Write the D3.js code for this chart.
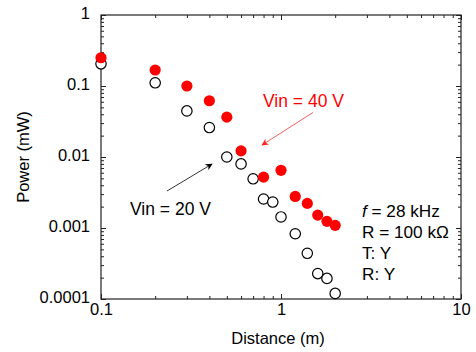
<!DOCTYPE html>
<html>
<head>
<meta charset="utf-8">
<script src="https://cdn.jsdelivr.net/npm/d3@7"></script>
<style>
  body { margin: 0; background: #fff; }
  svg { display: block; font-family: Arial, "Liberation Sans", sans-serif; }
</style>
</head>
<body>
<svg id="chart" width="476" height="352"></svg>
<script>
// distances (m) and measured power (mW)
const distance40 = [0.1, 0.2, 0.3, 0.4, 0.5, 0.6, 0.8, 1.0, 1.2, 1.4, 1.6, 1.8, 2.0];
const power40 = [0.25, 0.168, 0.1, 0.062, 0.0364, 0.0122, 0.0052, 0.0065, 0.00278, 0.00222, 0.00152, 0.00124, 0.00109];

const distance20 = [0.1, 0.2, 0.3, 0.4, 0.5, 0.6, 0.7, 0.8, 0.9, 1.0, 1.2, 1.4, 1.6, 1.8, 2.0];
const power20 = [0.205, 0.111, 0.0446, 0.026, 0.01, 0.008, 0.00493, 0.00256, 0.00232, 0.00143, 0.00083, 0.00044, 0.000228, 0.000195, 0.00012];

const xTicks = [0.1, 1, 10];
const xTickLabels = ['0.1', '1', '10'];
const yTicks = [0.0001, 0.001, 0.01, 0.1, 1];
const yTickLabels = ['0.0001', '0.001', '0.01', '0.1', '1'];

const notes = ['= 28 kHz', 'R = 100 k\u03A9', 'T: Y', 'R: Y'];

const margin = {left: 101, top: 15, right: 15, bottom: 53};
const W = 476, H = 352;

const svg = d3.select('#chart');

const x = d3.scaleLog().domain([0.1, 10]).range([margin.left, W - margin.right]);
const y = d3.scaleLog().domain([0.0001, 1]).range([H - margin.bottom, margin.top]);

// minor tick positions (2..9 in each decade)
function minors(domain) {
    let out = [];
    for (let e = Math.log10(domain[0]); e < Math.log10(domain[1]); e++) {
        for (let k = 2; k <= 9; k++) out.push(k * Math.pow(10, e));
    }
    return out;
}
const xMinor = minors(x.domain());
const yMinor = minors(y.domain());

// frame
svg.append('rect')
    .attr('x', x.range()[0]).attr('y', y.range()[1])
    .attr('width', x.range()[1] - x.range()[0])
    .attr('height', y.range()[0] - y.range()[1])
    .attr('fill', 'none').attr('stroke', '#222').attr('stroke-width', 1.2);

function styleAxis(g) {
    g.select('.domain').remove();
    g.selectAll('line').attr('stroke', '#222');
    g.selectAll('text').attr('fill', '#000').style('font-size', '16.5px');
}

// bottom
svg.append('g').attr('transform', `translate(0,${y.range()[0]})`)
    .call(d3.axisBottom(x).tickValues(xTicks).tickFormat((d, i) => xTickLabels[i])
        .tickSizeInner(-5).tickSizeOuter(0).tickPadding(4))
    .call(styleAxis);
svg.append('g').attr('transform', `translate(0,${y.range()[0]})`)
    .call(d3.axisBottom(x).tickValues(xMinor).tickFormat('').tickSizeInner(-3).tickSizeOuter(0))
    .call(styleAxis);
// top
svg.append('g').attr('transform', `translate(0,${y.range()[1]})`)
    .call(d3.axisTop(x).tickValues(xTicks).tickFormat('').tickSizeInner(-5).tickSizeOuter(0))
    .call(styleAxis);
svg.append('g').attr('transform', `translate(0,${y.range()[1]})`)
    .call(d3.axisTop(x).tickValues(xMinor).tickFormat('').tickSizeInner(-3).tickSizeOuter(0))
    .call(styleAxis);
// left
svg.append('g').attr('transform', `translate(${x.range()[0]},0)`)
    .call(d3.axisLeft(y).tickValues(yTicks).tickFormat((d, i) => yTickLabels[i])
        .tickSizeInner(-5).tickSizeOuter(0).tickPadding(11))
    .call(styleAxis)
    .selectAll('text').attr('dy', '0.2em');
svg.append('g').attr('transform', `translate(${x.range()[0]},0)`)
    .call(d3.axisLeft(y).tickValues(yMinor).tickFormat('').tickSizeInner(-3).tickSizeOuter(0))
    .call(styleAxis);
// right
svg.append('g').attr('transform', `translate(${x.range()[1]},0)`)
    .call(d3.axisRight(y).tickValues(yTicks).tickFormat('').tickSizeInner(-5).tickSizeOuter(0))
    .call(styleAxis);
svg.append('g').attr('transform', `translate(${x.range()[1]},0)`)
    .call(d3.axisRight(y).tickValues(yMinor).tickFormat('').tickSizeInner(-3).tickSizeOuter(0))
    .call(styleAxis);

// axis titles
svg.append('text')
    .attr('x', 278).attr('y', 344)
    .attr('text-anchor', 'middle').style('font-size', '16.5px')
    .text('Distance (m)');
svg.append('text')
    .attr('transform', 'translate(29,157) rotate(-90)')
    .attr('text-anchor', 'middle').style('font-size', '16.5px')
    .text('Power (mW)');

// markers
svg.append('g').selectAll('circle')
    .data(distance20.map((d, i) => [d, power20[i]]))
    .join('circle')
    .attr('cx', d => x(d[0])).attr('cy', d => y(d[1])).attr('r', 5.2)
    .attr('fill', '#fff').attr('stroke', '#000').attr('stroke-width', 1.2);

svg.append('g').selectAll('circle')
    .data(distance40.map((d, i) => [d, power40[i]]))
    .join('circle')
    .attr('cx', d => x(d[0])).attr('cy', d => y(d[1])).attr('r', 5.6)
    .attr('fill', '#ff0000');

// arrows
const defs = svg.append('defs');
function head(id, color) {
    defs.append('marker')
        .attr('id', id).attr('viewBox', '0 0 10 10')
        .attr('refX', 9).attr('refY', 5)
        .attr('markerWidth', 9).attr('markerHeight', 7)
        .attr('markerUnits', 'userSpaceOnUse')
        .attr('orient', 'auto')
        .append('path').attr('d', 'M0,0 L10,5 L0,10 L3,5 Z').attr('fill', color);
}
head('hk', '#000');
head('hr', '#ff2020');

svg.append('line')
    .attr('x1', 167).attr('y1', 191).attr('x2', 212).attr('y2', 164)
    .attr('stroke', '#333').attr('stroke-width', 1)
    .attr('marker-end', 'url(#hk)');
svg.append('line')
    .attr('x1', 313).attr('y1', 112.5).attr('x2', 262).attr('y2', 145)
    .attr('stroke', '#f46060').attr('stroke-width', 1)
    .attr('marker-end', 'url(#hr)');

svg.append('text')
    .attr('x', 263).attr('y', 106.5).style('font-size', '17.5px')
    .attr('fill', '#ff0000')
    .text('Vin = 40 V');
svg.append('text')
    .attr('x', 130).attr('y', 215).style('font-size', '17.5px')
    .text('Vin = 20 V');

// condition notes
const nt = svg.append('g').style('font-size', '17.2px');
notes.forEach((s, i) => {
    const t = nt.append('text').attr('x', 362).attr('y', 217 + i * 21);
    if (i === 0) {
        t.append('tspan').style('font-style', 'italic').text('f');
        t.append('tspan').text(' ' + s);
    } else {
        t.text(s);
    }
});
</script>
</body>
</html>
